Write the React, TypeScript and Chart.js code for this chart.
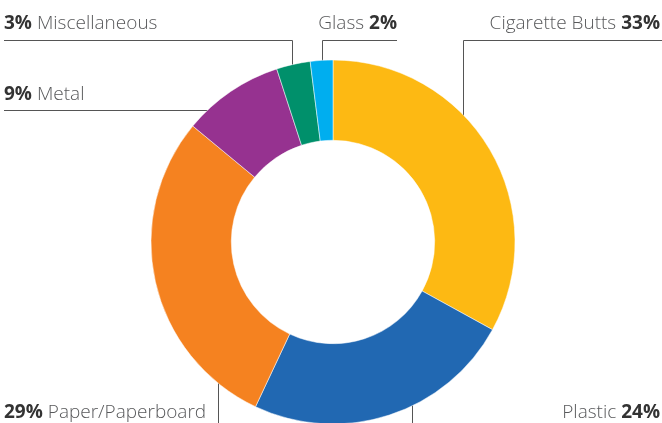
import React, { useEffect, useRef } from "react";
import { Chart, registerables } from "chart.js";

Chart.register(...registerables);

// ---- data ----
const categories = ["Cigarette Butts", "Plastic", "Paper/Paperboard", "Metal", "Miscellaneous", "Glass"];
const percentages = [33, 24, 29, 9, 3, 2];
const sliceColors = ["#FDB913", "#2168B2", "#F58220", "#963290", "#00906B", "#00AEEF"];

// ---- label layout (annotation placement, not data) ----
type Pt = [number | "arc", number | "arc"];
type LabelSpec = { align: "left" | "right"; x: number; baseline: number; pctFirst: boolean; path: Pt[] };
const labelLayout: LabelSpec[] = [
  { align: "right", x: 660, baseline: 29, pctFirst: false, path: [[662, 40.5], [463.5, 40.5], [463.5, "arc"]] },
  { align: "right", x: 660, baseline: 418, pctFirst: false, path: [[412.5, 423], [412.5, "arc"]] },
  { align: "left", x: 4, baseline: 418, pctFirst: true, path: [[218.5, 423], [218.5, "arc"]] },
  { align: "left", x: 4, baseline: 100, pctFirst: true, path: [[4, 110.5], ["arc", 110.5]] },
  { align: "left", x: 4, baseline: 29, pctFirst: true, path: [[4, 40.5], [292.5, 40.5], [292.5, "arc"]] },
  { align: "right", x: 397, baseline: 29, pctFirst: false, path: [[397, 40.5], [322.5, 40.5], [322.5, "arc"]] },
];

const FONT = '"Open Sans", "Noto Sans", sans-serif';
const NAME_FONT = `300 19px ${FONT}`;
const PCT_FONT = `700 19px ${FONT}`;
const NAME_COLOR = "#58595B";
const PCT_COLOR = "#333333";
const LINE_COLOR = "#555555";

const leaderPlugin = {
  id: "leaders",
  beforeDatasetsDraw(chart: any) {
    const ctx = chart.ctx;
    const meta = chart.getDatasetMeta(0);
    ctx.save();
    ctx.strokeStyle = LINE_COLOR;
    ctx.lineWidth = 1;
    labelLayout.forEach((spec, i) => {
      const arc = meta.data[i] as any;
      if (!arc) return;
      const cx = arc.x, cy = arc.y, R = arc.outerRadius - 4;
      ctx.beginPath();
      spec.path.forEach((p, k) => {
        let px: number, py: number;
        if (p[1] === "arc") {
          px = p[0] as number;
          const dx = px - cx;
          const h = Math.sqrt(Math.max(R * R - dx * dx, 0));
          const prevY = spec.path[k - 1][1] as number;
          py = prevY < cy ? cy - h : cy + h;
        } else if (p[0] === "arc") {
          py = p[1] as number;
          const dy = py - cy;
          const w = Math.sqrt(Math.max(R * R - dy * dy, 0));
          const prevX = spec.path[k - 1][0] as number;
          px = prevX < cx ? cx - w : cx + w;
        } else {
          px = p[0] as number;
          py = p[1] as number;
        }
        if (k === 0) ctx.moveTo(px, py);
        else ctx.lineTo(px, py);
      });
      ctx.stroke();
    });
    ctx.restore();
  },
  afterDraw(chart: any) {
    const ctx = chart.ctx;
    ctx.save();
    ctx.textBaseline = "alphabetic";
    ctx.textAlign = "left";
    labelLayout.forEach((spec, i) => {
      const name = categories[i];
      const pct = `${percentages[i]}%`;
      const parts = spec.pctFirst
        ? [{ t: pct, f: PCT_FONT, c: PCT_COLOR }, { t: " " + name, f: NAME_FONT, c: NAME_COLOR }]
        : [{ t: name + " ", f: NAME_FONT, c: NAME_COLOR }, { t: pct, f: PCT_FONT, c: PCT_COLOR }];
      const widths = parts.map((p) => {
        ctx.font = p.f;
        return ctx.measureText(p.t).width;
      });
      const total = widths.reduce((a, b) => a + b, 0);
      let x = spec.align === "left" ? spec.x : spec.x - total;
      parts.forEach((p, k) => {
        ctx.font = p.f;
        ctx.fillStyle = p.c;
        ctx.fillText(p.t, x, spec.baseline);
        x += widths[k];
      });
    });
    ctx.restore();
  },
};

export default function App() {
  const ref = useRef<HTMLCanvasElement>(null);
  useEffect(() => {
    if (!ref.current) return;
    const chart = new Chart(ref.current, {
      type: "doughnut",
      data: {
        labels: categories,
        datasets: [
          {
            data: percentages,
            backgroundColor: sliceColors,
            borderColor: "#FFFFFF",
            borderWidth: 0.5,
            radius: 182,
            cutout: 101,
          } as any,
        ],
      },
      options: {
        animation: false,
        responsive: false,
        devicePixelRatio: 1,
        layout: { padding: { left: 151, right: 147, top: 61, bottom: 0 } },
        plugins: { legend: { display: false }, tooltip: { enabled: false } },
      },
      plugins: [leaderPlugin],
    });
    return () => chart.destroy();
  }, []);
  return (
    <div style={{ position: "fixed", left: 0, top: 0, width: 662, height: 423, background: "#fff" }}>
      <canvas ref={ref} width={662} height={423} style={{ width: 662, height: 423, display: "block" }} />
    </div>
  );
}
